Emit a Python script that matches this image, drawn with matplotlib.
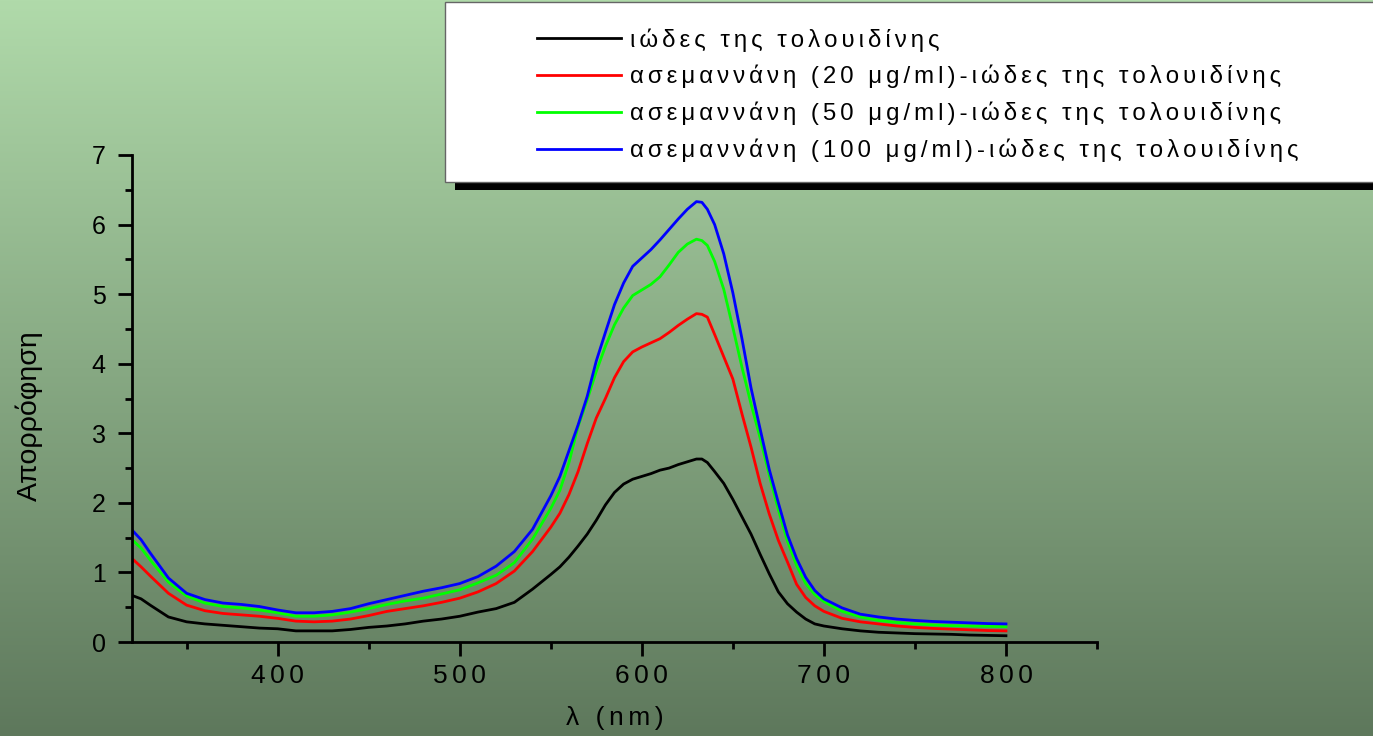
import numpy as np
import matplotlib
matplotlib.use("Agg")
import matplotlib.pyplot as plt
from matplotlib.patches import Rectangle
from matplotlib.ticker import MultipleLocator, FuncFormatter

# wavelength grid (nm)
wl = [320, 325, 330, 340, 350, 360, 370, 380, 390, 400, 410, 420, 430, 440,
      450, 460, 470, 480, 490, 500, 510, 520, 530, 540, 550, 555, 560, 565,
      570, 575, 580, 585, 590, 595, 600, 605, 610, 615, 620, 625, 630, 633,
      636, 640, 645, 650, 655, 660, 665, 670, 675, 680, 685, 690, 695, 700,
      710, 720, 730, 740, 750, 760, 770, 780, 790, 800]

black = [0.67, 0.62, 0.53, 0.36, 0.29, 0.26, 0.24, 0.22, 0.20, 0.19, 0.16, 0.16,
         0.16, 0.18, 0.21, 0.23, 0.26, 0.30, 0.33, 0.37, 0.43, 0.48, 0.57, 0.76,
         0.97, 1.08, 1.22, 1.38, 1.55, 1.75, 1.97, 2.15, 2.27, 2.34, 2.38, 2.42,
         2.47, 2.50, 2.55, 2.59, 2.63, 2.63, 2.58, 2.45, 2.28, 2.05, 1.80, 1.55,
         1.26, 0.98, 0.72, 0.55, 0.43, 0.33, 0.26, 0.23, 0.19, 0.16, 0.14, 0.13,
         0.12, 0.115, 0.11, 0.10, 0.095, 0.09]

red = [1.20, 1.08, 0.95, 0.70, 0.53, 0.45, 0.41, 0.39, 0.37, 0.34, 0.30, 0.29,
       0.30, 0.33, 0.38, 0.44, 0.48, 0.52, 0.57, 0.63, 0.72, 0.84, 1.02, 1.30,
       1.65, 1.85, 2.12, 2.45, 2.85, 3.22, 3.50, 3.80, 4.03, 4.17, 4.24, 4.30,
       4.36, 4.45, 4.55, 4.64, 4.72, 4.71, 4.67, 4.42, 4.10, 3.78, 3.28, 2.80,
       2.28, 1.84, 1.46, 1.15, 0.83, 0.64, 0.52, 0.44, 0.34, 0.29, 0.26, 0.23,
       0.21, 0.195, 0.185, 0.175, 0.165, 0.16]

green = [1.47, 1.35, 1.18, 0.86, 0.66, 0.56, 0.51, 0.49, 0.46, 0.42, 0.37, 0.37,
         0.39, 0.43, 0.48, 0.54, 0.59, 0.63, 0.69, 0.75, 0.85, 0.96, 1.14, 1.48,
         1.92, 2.18, 2.58, 3.10, 3.48, 3.89, 4.25, 4.56, 4.80, 4.98, 5.06, 5.14,
         5.25, 5.42, 5.60, 5.72, 5.79, 5.77, 5.70, 5.47, 5.07, 4.52, 3.95, 3.42,
         2.93, 2.40, 1.90, 1.45, 1.10, 0.84, 0.68, 0.58, 0.44, 0.36, 0.31, 0.28,
         0.26, 0.245, 0.235, 0.23, 0.225, 0.22]

blue = [1.61, 1.47, 1.28, 0.92, 0.70, 0.61, 0.56, 0.54, 0.51, 0.46, 0.42, 0.42,
        0.44, 0.48, 0.55, 0.61, 0.67, 0.73, 0.78, 0.84, 0.94, 1.09, 1.30, 1.62,
        2.10, 2.38, 2.75, 3.12, 3.53, 4.04, 4.45, 4.85, 5.16, 5.40, 5.52, 5.64,
        5.78, 5.93, 6.08, 6.22, 6.33, 6.32, 6.22, 6.00, 5.58, 5.02, 4.36, 3.65,
        3.06, 2.48, 2.00, 1.54, 1.20, 0.93, 0.74, 0.62, 0.49, 0.40, 0.36, 0.33,
        0.31, 0.295, 0.285, 0.275, 0.265, 0.26]

labels = ["ιώδες της τολουιδίνης",
          "ασεμαννάνη (20 μg/ml)-ιώδες της τολουιδίνης",
          "ασεμαννάνη (50 μg/ml)-ιώδες της τολουιδίνης",
          "ασεμαννάνη (100 μg/ml)-ιώδες της τολουιδίνης"]
colors = ["#000000", "#ff0000", "#00ff00", "#0000ff"]

FONT = ['Liberation Sans', 'DejaVu Sans']


def track(s: str) -> str:
    # the original text is letter-spaced
    return "\u200a\u200a".join(s)


def main() -> None:
    plt.rcParams['font.family'] = FONT
    fig = plt.figure(figsize=(13.73, 7.36), dpi=100)

    # background gradient
    bg = fig.add_axes([0, 0, 1, 1], zorder=-10)
    top = np.array([176, 218, 170]) / 255
    bot = np.array([94, 120, 92]) / 255
    t = np.linspace(0, 1, 256)[:, None]
    grad = top[None, :] * (1 - t) + bot[None, :] * t
    bg.imshow(grad[:, None, :], aspect='auto', extent=[0, 1, 0, 1])
    bg.axis('off')

    ax = fig.add_axes([132 / 1373, 1 - 642 / 736, (1097 - 132) / 1373, (642 - 155) / 736])
    ax.set_facecolor('none')

    lines = []
    for y, c, lab in zip([black, red, green, blue], colors, labels):
        ln, = ax.plot(wl, y, color=c, linewidth=2, label=track(lab))
        lines.append(ln)

    ax.set_xlim(320, 850)
    ax.set_ylim(0, 7)
    ax.xaxis.set_major_locator(MultipleLocator(100))
    ax.xaxis.set_minor_locator(MultipleLocator(50))
    ax.yaxis.set_major_locator(MultipleLocator(1))
    ax.yaxis.set_minor_locator(MultipleLocator(0.5))
    ax.xaxis.set_major_formatter(FuncFormatter(lambda v, p: track(f"{v:.0f}")))

    for s in ['top', 'right']:
        ax.spines[s].set_visible(False)
    for s in ['left', 'bottom']:
        ax.spines[s].set_linewidth(2)
    ax.tick_params(which='major', length=10, width=2, direction='out')
    ax.tick_params(which='minor', length=5, width=2, direction='out')
    ax.tick_params(axis='y', which='major', labelsize=18, pad=9)
    ax.tick_params(axis='x', which='major', labelsize=19, pad=6)

    ax.set_xlabel(track("λ (nm)"), fontsize=19, labelpad=13)
    ax.set_ylabel("Απορρόφηση", fontsize=20.5)
    ax.yaxis.set_label_coords(-0.092, 0.464)

    # legend box with shadow
    fig.patches.append(Rectangle((455 / 1373, 1 - 190 / 736), 1, 180 / 736,
                                 transform=fig.transFigure, facecolor='black',
                                 edgecolor='none', zorder=1))
    fig.patches.append(Rectangle((445 / 1373, 1 - 182 / 736), 1, 180 / 736,
                                 transform=fig.transFigure, facecolor='white',
                                 edgecolor='#666666', linewidth=1, zorder=2))
    leg = fig.legend(handles=lines, loc='upper left',
                     bbox_to_anchor=(537 / 1373, 1 - 28 / 736),
                     frameon=False, fontsize=17.3, handlelength=3.5,
                     handletextpad=0.37, labelspacing=0.56, borderpad=0,
                     borderaxespad=0)
    leg.set_zorder(5)

    fig.savefig("out.png", dpi=100)


if __name__ == '__main__':
    main()
